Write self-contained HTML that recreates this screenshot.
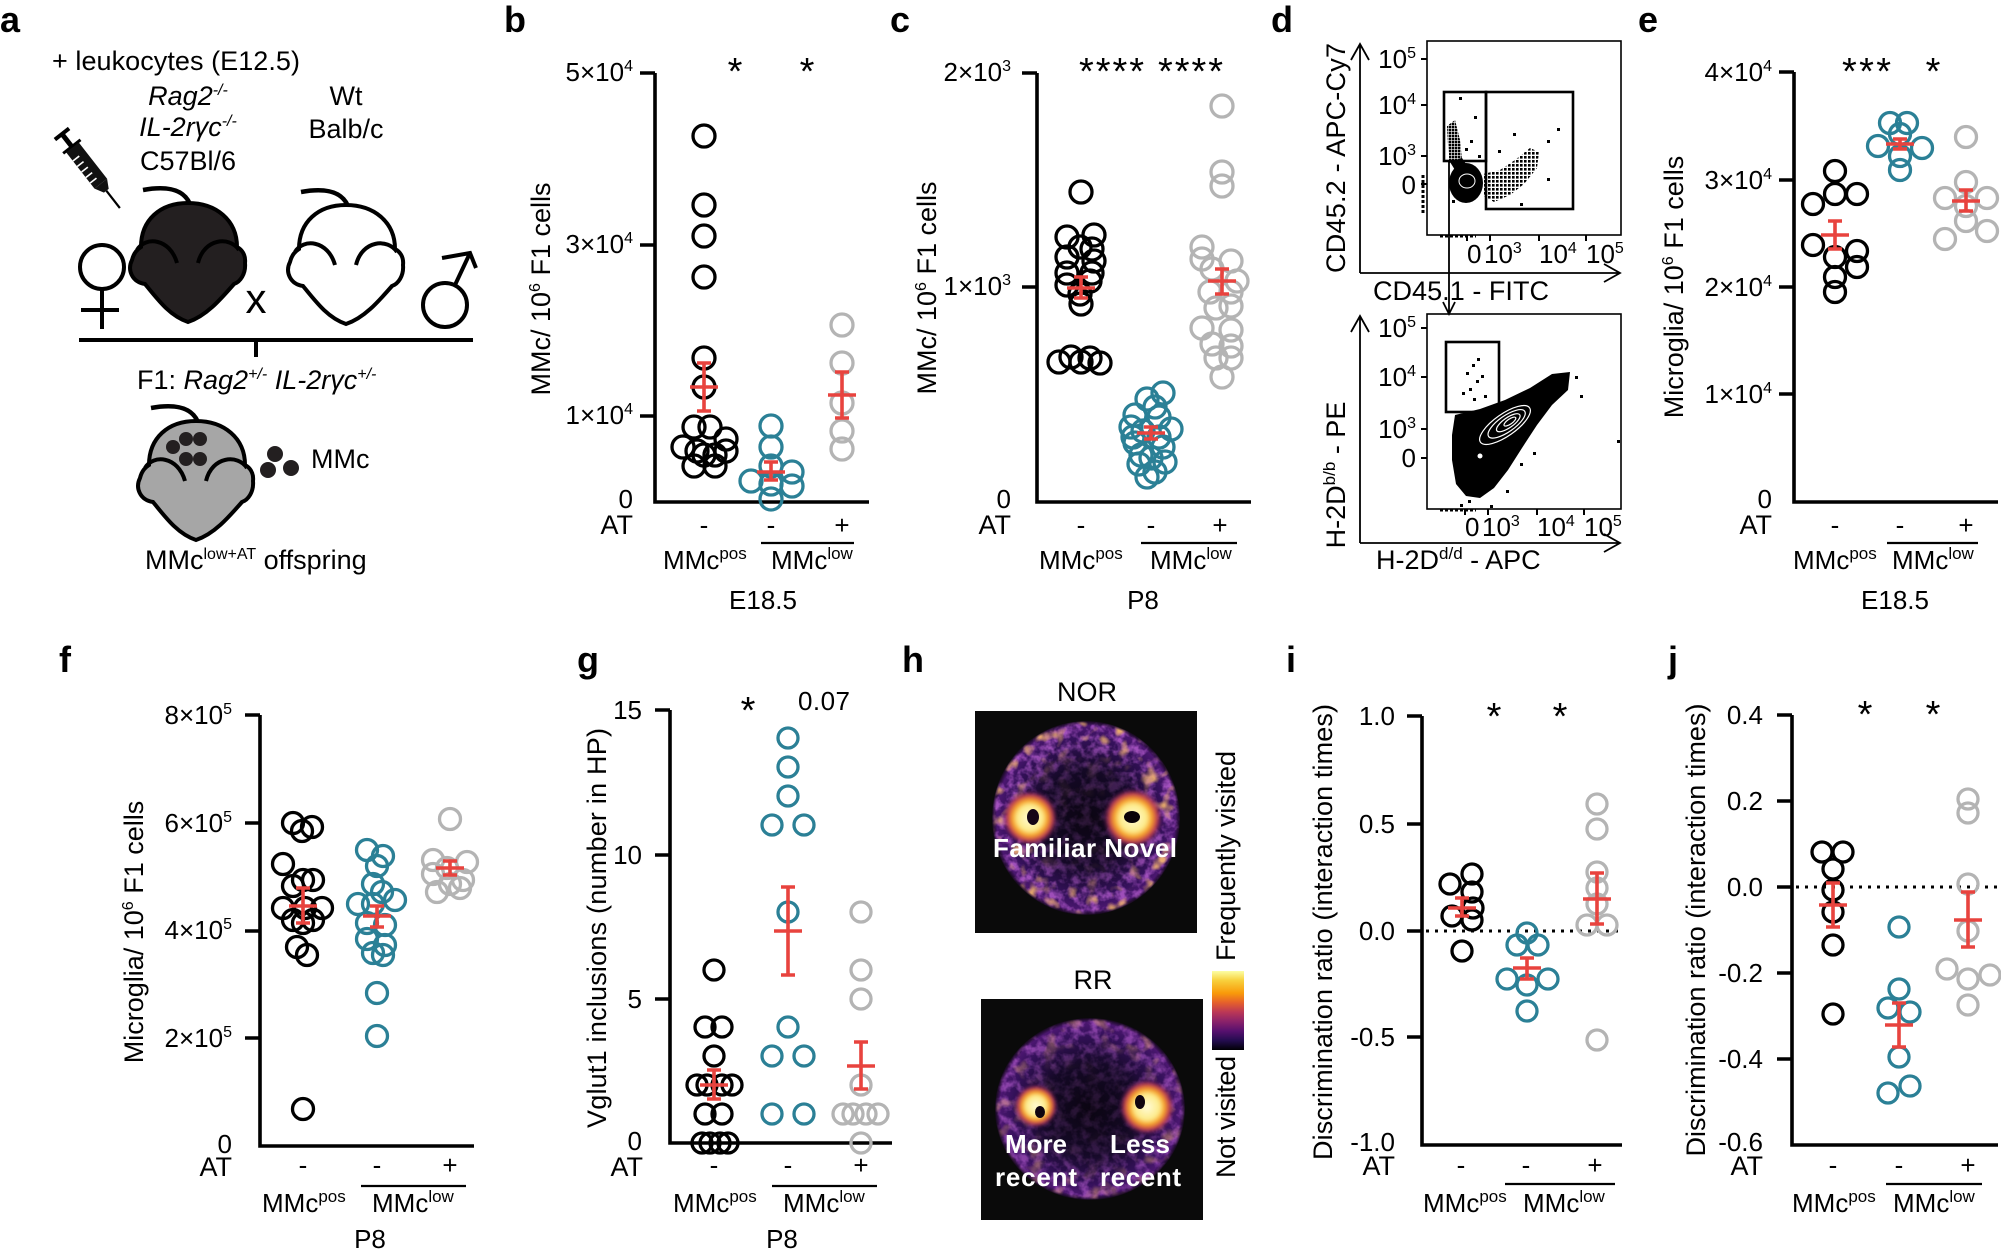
<!DOCTYPE html>
<html><head><meta charset="utf-8">
<style>
html,body{margin:0;padding:0;background:#fff;}
svg{display:block;}
text{font-family:"Liberation Sans",Arial,sans-serif;font-size:26px;fill:#000;}
.ax{fill:none;stroke:#000;stroke-width:3.6;}
.k circle{fill:none;stroke:#000;stroke-width:3.3;}
.t circle{fill:none;stroke:#2b8096;stroke-width:3.3;}
.g circle{fill:none;stroke:#b4b4b4;stroke-width:3.3;}
.eb{fill:none;stroke:#e8433e;stroke-width:3.6;}
.lbl{font-weight:bold;font-size:36px;}
.big{font-size:27px;}
.ast{font-size:38px;}
.thin{fill:none;stroke:#000;stroke-width:1.8;}
.wt{fill:#fff;font-weight:bold;font-size:26px;}
</style></head><body>
<svg width="2001" height="1251" viewBox="0 0 2001 1251" xmlns="http://www.w3.org/2000/svg" xmlns:xlink="http://www.w3.org/1999/xlink">
<defs>
  <g id="mouse">
    <path d="M188,322 C170,316 158,300 145,284 C132,282 127,270 132,260 C134,252 138,249 141,247 C141,220 160,203 188,203 C216,203 237,220 237,247 C241,249 246,254 245,263 C246,274 240,282 234,284 C220,300 206,316 188,322 Z" stroke="#000" stroke-width="4"/>
    <path d="M137,250 C145,236 170,238 177,263" fill="none" stroke="#000" stroke-width="4"/>
    <path d="M198,263 C204,238 230,236 239,250" fill="none" stroke="#000" stroke-width="4"/>
    <path d="M143,190 C165,186 183,188 190,204" fill="none" stroke="#000" stroke-width="4.5"/>
  </g>
  <radialGradient id="arena" cx="50%" cy="50%" r="50%">
    <stop offset="0" stop-color="#0b0512"/>
    <stop offset="0.5" stop-color="#140926"/>
    <stop offset="0.82" stop-color="#34115a"/>
    <stop offset="0.95" stop-color="#4b1770"/>
    <stop offset="1" stop-color="#120818"/>
  </radialGradient>
  <radialGradient id="ringg" cx="50%" cy="50%" r="50%">
    <stop offset="0" stop-color="#000"/>
    <stop offset="0.6" stop-color="#222"/>
    <stop offset="0.85" stop-color="#fff"/>
    <stop offset="0.97" stop-color="#fff"/>
    <stop offset="1" stop-color="#000"/>
  </radialGradient>
  <radialGradient id="ringsoft" cx="50%" cy="50%" r="50%">
    <stop offset="0" stop-color="#3a3a3a"/>
    <stop offset="0.5" stop-color="#555"/>
    <stop offset="0.82" stop-color="#eee"/>
    <stop offset="0.96" stop-color="#fff"/>
    <stop offset="1" stop-color="#000"/>
  </radialGradient>
  <mask id="ring1"><ellipse cx="1086" cy="818" rx="94" ry="97" fill="url(#ringg)"/></mask>
  <mask id="ring2"><ellipse cx="1090" cy="1109" rx="95" ry="91" fill="url(#ringg)"/></mask>
  <mask id="soft1"><ellipse cx="1086" cy="818" rx="94" ry="97" fill="url(#ringsoft)"/></mask>
  <mask id="soft2"><ellipse cx="1090" cy="1109" rx="95" ry="91" fill="url(#ringsoft)"/></mask>
  <radialGradient id="hot" cx="50%" cy="50%" r="50%">
    <stop offset="0" stop-color="#fffbd8"/>
    <stop offset="0.45" stop-color="#fdeb8a"/>
    <stop offset="0.62" stop-color="#f7a42a"/>
    <stop offset="0.8" stop-color="#c4404c"/>
    <stop offset="1" stop-color="#5a1470" stop-opacity="0"/>
  </radialGradient>
  <linearGradient id="cbar" x1="0" y1="0" x2="0" y2="1">
    <stop offset="0" stop-color="#fcffa4"/>
    <stop offset="0.12" stop-color="#f8d03c"/>
    <stop offset="0.28" stop-color="#f99a0a"/>
    <stop offset="0.4" stop-color="#e5602b"/>
    <stop offset="0.52" stop-color="#bb3756"/>
    <stop offset="0.64" stop-color="#8a226a"/>
    <stop offset="0.76" stop-color="#57106e"/>
    <stop offset="0.88" stop-color="#240c4f"/>
    <stop offset="1" stop-color="#000004"/>
  </linearGradient>
  <filter id="noise" x="0" y="0" width="1" height="1">
    <feTurbulence type="fractalNoise" baseFrequency="0.11" numOctaves="3" seed="7"/>
    <feColorMatrix type="matrix" values="0 0 0 0 0.5  0 0 0 0 0.12  0 0 0 0 0.66  3 0 0 0 -1.2"/>
  </filter>
  <filter id="onoise" x="0" y="0" width="1" height="1">
    <feTurbulence type="fractalNoise" baseFrequency="0.07" numOctaves="2" seed="11"/>
    <feColorMatrix type="matrix" values="0 0 0 0 0.96  0 0 0 0 0.5  0 0 0 0 0.16  3.6 0 0 0 -1.9"/>
  </filter>
  <filter id="blur"><feGaussianBlur stdDeviation="1.6"/></filter>
  <pattern id="dots" width="4" height="4" patternUnits="userSpaceOnUse"><rect width="2.6" height="2.6" fill="#000"/></pattern>
  <pattern id="dots2" width="3" height="3" patternUnits="userSpaceOnUse"><rect width="2.4" height="2.4" fill="#000"/></pattern>
</defs>

<!-- ================= Panel a ================= -->
<text class="lbl" x="0" y="32">a</text>
<text class="big" x="52" y="70" textLength="248">+ leukocytes (E12.5)</text>
<text class="big" x="188" y="105" text-anchor="middle" font-style="italic">Rag2<tspan dy="-10" font-size="16">-/-</tspan></text>
<text class="big" x="188" y="136" text-anchor="middle" font-style="italic">IL-2rγc<tspan dy="-10" font-size="16">-/-</tspan></text>
<text class="big" x="188" y="170" text-anchor="middle">C57Bl/6</text>
<text class="big" x="346" y="105" text-anchor="middle">Wt</text>
<text class="big" x="346" y="138" text-anchor="middle">Balb/c</text>
<g transform="translate(62,134) rotate(52)">
  <line x1="0" y1="-9" x2="0" y2="9" stroke="#000" stroke-width="4"/>
  <line x1="0" y1="0" x2="16" y2="0" stroke="#000" stroke-width="5"/>
  <line x1="16" y1="-11" x2="16" y2="11" stroke="#000" stroke-width="3"/>
  <rect x="17" y="-8" width="46" height="16" fill="#111"/>
  <g stroke="#fff" stroke-width="1.6"><line x1="28" y1="0" x2="28" y2="8"/><line x1="35" y1="0" x2="35" y2="8"/><line x1="42" y1="0" x2="42" y2="8"/><line x1="49" y1="0" x2="49" y2="8"/><line x1="56" y1="0" x2="56" y2="8"/></g>
  <polygon points="63,-8 72,-3 72,3 63,8" fill="#111"/>
  <line x1="72" y1="0" x2="94" y2="0" stroke="#000" stroke-width="2.2"/>
</g>
<use xlink:href="#mouse" fill="#231f20"/>
<use xlink:href="#mouse" fill="#fff" transform="translate(158,2)"/>
<use xlink:href="#mouse" fill="#a6a6a6" transform="translate(8,218)"/>
<circle cx="102" cy="267" r="22" fill="none" stroke="#000" stroke-width="4"/>
<line x1="102" y1="289" x2="102" y2="329" stroke="#000" stroke-width="4"/>
<line x1="81" y1="310" x2="119" y2="310" stroke="#000" stroke-width="4"/>
<circle cx="445" cy="305" r="22" fill="none" stroke="#000" stroke-width="4"/>
<path d="M455,285 L470,253 M442,258 L470,253 L476,268" fill="none" stroke="#000" stroke-width="4"/>
<text x="256" y="313" style="font-size:42px" text-anchor="middle">x</text>
<path d="M79,340 H473 M256,340 V357" fill="none" stroke="#000" stroke-width="4"/>
<text class="big" x="137" y="389">F1: <tspan font-style="italic">Rag2</tspan><tspan dy="-10" font-size="16" font-style="italic">+/-</tspan><tspan dy="10" font-style="italic"> IL-2rγc</tspan><tspan dy="-10" font-size="16" font-style="italic">+/-</tspan></text>
<g fill="#231f20">
  <circle cx="173" cy="447" r="7"/><circle cx="186" cy="439" r="7"/><circle cx="200" cy="439" r="7"/>
  <circle cx="186" cy="459" r="7"/><circle cx="200" cy="459" r="7"/>
  <circle cx="275" cy="454" r="8"/><circle cx="268" cy="470" r="8"/><circle cx="291" cy="468" r="8"/>
</g>
<text class="big" x="311" y="468">MMc</text>
<text class="big" x="145" y="569">MMc<tspan dy="-10" font-size="16">low+AT</tspan><tspan dy="10"> offspring</tspan></text>

<!-- ================= Panel b ================= -->
<text class="lbl" x="504" y="32">b</text>
<text class="big" transform="translate(550,289) rotate(-90)" text-anchor="middle">MMc/ 10<tspan dy="-10" font-size="16">6</tspan><tspan dy="10"> F1 cells</tspan></text>
<path class="ax" d="M655,73 V502 H869 M640,73 H655 M640,245 H655 M640,416 H655"/>
<text x="633" y="81" text-anchor="end">5×10<tspan dy="-10" font-size="16">4</tspan></text>
<text x="633" y="253" text-anchor="end">3×10<tspan dy="-10" font-size="16">4</tspan></text>
<text x="633" y="424" text-anchor="end">1×10<tspan dy="-10" font-size="16">4</tspan></text>
<text x="633" y="508" text-anchor="end">0</text>
<text class="big" x="633" y="534" text-anchor="end">AT</text>
<text x="704" y="534" text-anchor="middle">-</text><text x="771" y="534" text-anchor="middle">-</text><text x="842" y="534" text-anchor="middle">+</text>
<path d="M761,543 H854" stroke="#000" stroke-width="2.2"/>
<text x="663" y="569">MMc<tspan dy="-10" font-size="17">pos</tspan></text>
<text x="771" y="569">MMc<tspan dy="-10" font-size="17">low</tspan></text>
<text x="763" y="609" text-anchor="middle">E18.5</text>
<text class="ast" x="735" y="84" text-anchor="middle">*</text><text class="ast" x="807" y="84" text-anchor="middle">*</text>
<g class="k"><circle cx="704" cy="136" r="11"/><circle cx="704" cy="205" r="11"/><circle cx="704" cy="236" r="11"/><circle cx="704" cy="277" r="11"/><circle cx="704" cy="358" r="11"/><circle cx="704" cy="387" r="11"/><circle cx="694" cy="427" r="11"/><circle cx="710" cy="427" r="11"/><circle cx="683" cy="447" r="11"/><circle cx="697" cy="451" r="11"/><circle cx="726" cy="439" r="11"/><circle cx="726" cy="451" r="11"/><circle cx="715" cy="455" r="11"/><circle cx="694" cy="466" r="11"/><circle cx="715" cy="466" r="11"/><circle cx="704" cy="455" r="11"/></g>
<g class="t"><circle cx="771" cy="426" r="11"/><circle cx="771" cy="447" r="11"/><circle cx="771" cy="466" r="11"/><circle cx="751" cy="481" r="11"/><circle cx="792" cy="472" r="11"/><circle cx="792" cy="486" r="11"/><circle cx="771" cy="484" r="11"/><circle cx="771" cy="499" r="11"/></g>
<g class="g"><circle cx="842" cy="325" r="11"/><circle cx="842" cy="363" r="11"/><circle cx="842" cy="403" r="11"/><circle cx="842" cy="431" r="11"/><circle cx="842" cy="449" r="11"/></g>
<path class="eb" d="M704,363V411M697,363H711M697,411H711M690,387H718 M771,462V480M764,462H778M764,480H778M757,472H785 M842,372V418M835,372H849M835,418H849M828,395H856"/>

<!-- ================= Panel c ================= -->
<text class="lbl" x="890" y="32">c</text>
<text class="big" transform="translate(936,288) rotate(-90)" text-anchor="middle">MMc/ 10<tspan dy="-10" font-size="16">6</tspan><tspan dy="10"> F1 cells</tspan></text>
<path class="ax" d="M1037,73 V502 H1251 M1022,73 H1037 M1022,287 H1037"/>
<text x="1011" y="81" text-anchor="end">2×10<tspan dy="-10" font-size="16">3</tspan></text>
<text x="1011" y="295" text-anchor="end">1×10<tspan dy="-10" font-size="16">3</tspan></text>
<text x="1011" y="508" text-anchor="end">0</text>
<text class="big" x="1011" y="534" text-anchor="end">AT</text>
<text x="1081" y="534" text-anchor="middle">-</text><text x="1151" y="534" text-anchor="middle">-</text><text x="1220" y="534" text-anchor="middle">+</text>
<path d="M1141,543 H1237" stroke="#000" stroke-width="2.2"/>
<text x="1039" y="569">MMc<tspan dy="-10" font-size="17">pos</tspan></text>
<text x="1150" y="569">MMc<tspan dy="-10" font-size="17">low</tspan></text>
<text x="1143" y="609" text-anchor="middle">P8</text>
<text class="ast" x="1079" y="84" textLength="65">****</text><text class="ast" x="1158" y="84" textLength="65">****</text>
<g class="k"><circle cx="1081" cy="192" r="11"/><circle cx="1067" cy="237" r="11"/><circle cx="1094" cy="235" r="11"/><circle cx="1080" cy="247" r="11"/><circle cx="1092" cy="249" r="11"/><circle cx="1067" cy="257" r="11"/><circle cx="1094" cy="261" r="11"/><circle cx="1067" cy="273" r="11"/><circle cx="1092" cy="273" r="11"/><circle cx="1067" cy="285" r="11"/><circle cx="1090" cy="281" r="11"/><circle cx="1080" cy="294" r="11"/><circle cx="1081" cy="304" r="11"/><circle cx="1059" cy="362" r="11"/><circle cx="1071" cy="357" r="11"/><circle cx="1081" cy="362" r="11"/><circle cx="1090" cy="358" r="11"/><circle cx="1100" cy="363" r="11"/></g>
<g class="t"><circle cx="1163" cy="393" r="11"/><circle cx="1147" cy="399" r="11"/><circle cx="1155" cy="407" r="11"/><circle cx="1135" cy="415" r="11"/><circle cx="1159" cy="417" r="11"/><circle cx="1131" cy="427" r="11"/><circle cx="1171" cy="429" r="11"/><circle cx="1143" cy="431" r="11"/><circle cx="1159" cy="437" r="11"/><circle cx="1133" cy="437" r="11"/><circle cx="1135" cy="443" r="11"/><circle cx="1163" cy="447" r="11"/><circle cx="1141" cy="455" r="11"/><circle cx="1151" cy="458" r="11"/><circle cx="1165" cy="462" r="11"/><circle cx="1139" cy="464" r="11"/><circle cx="1155" cy="472" r="11"/><circle cx="1147" cy="477" r="11"/></g>
<g class="g"><circle cx="1222" cy="106" r="11"/><circle cx="1222" cy="172" r="11"/><circle cx="1222" cy="186" r="11"/><circle cx="1202" cy="247" r="11"/><circle cx="1202" cy="259" r="11"/><circle cx="1231" cy="261" r="11"/><circle cx="1212" cy="269" r="11"/><circle cx="1237" cy="281" r="11"/><circle cx="1210" cy="292" r="11"/><circle cx="1231" cy="292" r="11"/><circle cx="1216" cy="308" r="11"/><circle cx="1231" cy="306" r="11"/><circle cx="1202" cy="328" r="11"/><circle cx="1231" cy="330" r="11"/><circle cx="1212" cy="344" r="11"/><circle cx="1231" cy="346" r="11"/><circle cx="1216" cy="358" r="11"/><circle cx="1231" cy="358" r="11"/><circle cx="1222" cy="377" r="11"/></g>
<path class="eb" d="M1081,277V298M1074,277H1088M1074,298H1088M1067,288H1095 M1151,427V439M1144,427H1158M1144,439H1158M1137,433H1165 M1222,269V294M1215,269H1229M1215,294H1229M1208,281H1236"/>

<!-- ================= Panel d ================= -->
<text class="lbl" x="1271" y="32">d</text>
<rect x="1427" y="41" width="194" height="194" fill="none" stroke="#000" stroke-width="1.6"/>
<path class="thin" d="M1360,273 V45 M1351,60 L1360,44 L1369,60 M1360,273 H1620 M1604,264 L1620,273 L1604,282"/>
<path d="M1421,59H1427M1421,105H1427M1421,156H1427M1421,184H1427M1467,235V241M1490,235V241M1539,235V241M1586,235V241" stroke="#000" stroke-width="2"/>
<text x="1416" y="68" text-anchor="end">10<tspan dy="-10" font-size="16">5</tspan></text>
<text x="1416" y="114" text-anchor="end">10<tspan dy="-10" font-size="16">4</tspan></text>
<text x="1416" y="165" text-anchor="end">10<tspan dy="-10" font-size="16">3</tspan></text>
<text x="1416" y="194" text-anchor="end">0</text>
<text x="1467" y="263">0</text><text x="1484" y="263">10<tspan dy="-10" font-size="16">3</tspan></text>
<text x="1539" y="263">10<tspan dy="-10" font-size="16">4</tspan></text><text x="1586" y="263">10<tspan dy="-10" font-size="16">5</tspan></text>
<text class="big" transform="translate(1345,158) rotate(-90)" text-anchor="middle" textLength="230">CD45.2 - APC-Cy7</text>
<text class="big" x="1373" y="300" textLength="176">CD45.1 - FITC</text>
<rect x="1444" y="92" width="42" height="69" fill="none" stroke="#000" stroke-width="2.6"/>
<rect x="1486" y="92" width="87" height="117" fill="none" stroke="#000" stroke-width="2.6"/>
<path d="M1447,126 L1455,120 L1460,140 L1462,160 L1449,163 Z" fill="url(#dots2)"/>
<ellipse cx="1466" cy="183" rx="17" ry="20" fill="#000"/>
<path d="M1450,162 L1462,158 L1470,170 L1460,178 Z" fill="#000"/>
<path d="M1483,174 L1500,170 L1515,160 L1530,148 L1539,152 L1537,168 L1524,184 L1510,195 L1494,202 L1484,196 Z" fill="url(#dots)"/>
<ellipse cx="1467" cy="181" rx="8" ry="7" fill="none" stroke="#fff" stroke-width="1"/>
<g fill="#000"><rect x="1459" y="97" width="3" height="3"/><rect x="1474" y="116" width="3" height="3"/><rect x="1513" y="133" width="3" height="3"/><rect x="1547" y="140" width="3" height="3"/><rect x="1557" y="128" width="3" height="3"/><rect x="1547" y="178" width="3" height="3"/><rect x="1520" y="203" width="3" height="3"/><rect x="1498" y="150" width="3" height="3"/><rect x="1470" y="140" width="3" height="3"/><rect x="1478" y="155" width="3" height="3"/><rect x="1465" y="148" width="3" height="3"/><rect x="1452" y="200" width="3" height="3"/></g>
<path d="M1440,236 H1476" stroke="#000" stroke-width="3" stroke-dasharray="3 2"/>
<path d="M1423,175 V215" stroke="#000" stroke-width="3" stroke-dasharray="3 2"/>
<path class="thin" d="M1449,162 V314 M1443,302 L1449,314 L1455,302"/>
<rect x="1427" y="314" width="194" height="195" fill="none" stroke="#000" stroke-width="1.6"/>
<path class="thin" d="M1360,543 V316 M1351,332 L1360,316 L1369,332 M1360,543 H1620 M1604,534 L1620,543 L1604,552"/>
<path d="M1421,328H1427M1421,377H1427M1421,429H1427M1421,458H1427M1465,509V515M1488,509V515M1537,509V515M1584,509V515" stroke="#000" stroke-width="2"/>
<text x="1416" y="337" text-anchor="end">10<tspan dy="-10" font-size="16">5</tspan></text>
<text x="1416" y="386" text-anchor="end">10<tspan dy="-10" font-size="16">4</tspan></text>
<text x="1416" y="438" text-anchor="end">10<tspan dy="-10" font-size="16">3</tspan></text>
<text x="1416" y="467" text-anchor="end">0</text>
<text x="1465" y="536">0</text><text x="1482" y="536">10<tspan dy="-10" font-size="16">3</tspan></text>
<text x="1537" y="536">10<tspan dy="-10" font-size="16">4</tspan></text><text x="1584" y="536">10<tspan dy="-10" font-size="16">5</tspan></text>
<text class="big" transform="translate(1345,475) rotate(-90)" text-anchor="middle">H-2D<tspan dy="-10" font-size="17">b/b</tspan><tspan dy="10"> - PE</tspan></text>
<text class="big" x="1376" y="569">H-2D<tspan dy="-10" font-size="17">d/d</tspan><tspan dy="10"> - APC</tspan></text>
<rect x="1446" y="342" width="53" height="70" fill="none" stroke="#000" stroke-width="2.6"/>
<path d="M1455,415 L1480,409 L1505,400 L1530,388 L1552,374 L1570,372 L1568,390 L1552,405 L1537,425 L1522,448 L1508,470 L1494,488 L1480,498 L1466,496 L1456,484 L1452,460 L1452,435 Z" fill="#000"/>
<g fill="none" stroke="#fff" stroke-width="1.2" transform="rotate(-35 1505 425)">
  <ellipse cx="1505" cy="425" rx="30" ry="11"/><ellipse cx="1507" cy="425" rx="22" ry="8"/><ellipse cx="1509" cy="425" rx="14" ry="5"/><ellipse cx="1511" cy="425" rx="7" ry="2.5"/>
</g>
<circle cx="1480" cy="456" r="2.5" fill="#fff"/>
<g fill="#000"><rect x="1466" y="372" width="3" height="3"/><rect x="1472" y="364" width="3" height="3"/><rect x="1476" y="380" width="3" height="3"/><rect x="1469" y="388" width="3" height="3"/><rect x="1481" y="375" width="3" height="3"/><rect x="1462" y="392" width="3" height="3"/><rect x="1484" y="395" width="3" height="3"/><rect x="1477" y="358" width="3" height="3"/><rect x="1473" y="398" width="3" height="3"/><rect x="1548" y="384" width="3" height="3"/><rect x="1575" y="376" width="3" height="3"/><rect x="1580" y="395" width="3" height="3"/><rect x="1520" y="463" width="3" height="3"/><rect x="1533" y="452" width="3" height="3"/><rect x="1468" y="500" width="3" height="3"/><rect x="1460" y="504" width="3" height="3"/><rect x="1490" y="505" width="3" height="3"/><rect x="1506" y="490" width="3" height="3"/><rect x="1617" y="440" width="3" height="3"/><rect x="1536" y="418" width="3" height="3"/></g>
<path d="M1440,510 H1476" stroke="#000" stroke-width="3" stroke-dasharray="3 2"/>

<!-- ================= Panel e ================= -->
<text class="lbl" x="1638" y="32">e</text>
<text class="big" transform="translate(1683,287) rotate(-90)" text-anchor="middle">Microglia/ 10<tspan dy="-10" font-size="16">6</tspan><tspan dy="10"> F1 cells</tspan></text>
<path class="ax" d="M1794,72 V502 H1998 M1779,72 H1794 M1779,180 H1794 M1779,287 H1794 M1779,394 H1794"/>
<text x="1772" y="81" text-anchor="end">4×10<tspan dy="-10" font-size="16">4</tspan></text>
<text x="1772" y="189" text-anchor="end">3×10<tspan dy="-10" font-size="16">4</tspan></text>
<text x="1772" y="296" text-anchor="end">2×10<tspan dy="-10" font-size="16">4</tspan></text>
<text x="1772" y="403" text-anchor="end">1×10<tspan dy="-10" font-size="16">4</tspan></text>
<text x="1772" y="508" text-anchor="end">0</text>
<text class="big" x="1772" y="534" text-anchor="end">AT</text>
<text x="1835" y="534" text-anchor="middle">-</text><text x="1900" y="534" text-anchor="middle">-</text><text x="1966" y="534" text-anchor="middle">+</text>
<path d="M1887,543 H1978" stroke="#000" stroke-width="2.2"/>
<text x="1793" y="569">MMc<tspan dy="-10" font-size="17">pos</tspan></text>
<text x="1892" y="569">MMc<tspan dy="-10" font-size="17">low</tspan></text>
<text x="1895" y="609" text-anchor="middle">E18.5</text>
<text class="ast" x="1842" y="84" textLength="49">***</text><text class="ast" x="1933" y="84" text-anchor="middle">*</text>
<g class="k"><circle cx="1835" cy="171" r="10.5"/><circle cx="1813" cy="204" r="10.5"/><circle cx="1835" cy="194" r="10.5"/><circle cx="1857" cy="194" r="10.5"/><circle cx="1813" cy="245" r="10.5"/><circle cx="1835" cy="257" r="10.5"/><circle cx="1857" cy="251" r="10.5"/><circle cx="1857" cy="267" r="10.5"/><circle cx="1835" cy="277" r="10.5"/><circle cx="1835" cy="292" r="10.5"/></g>
<g class="t"><circle cx="1890" cy="123" r="10.5"/><circle cx="1907" cy="123" r="10.5"/><circle cx="1878" cy="146" r="10.5"/><circle cx="1900" cy="134" r="10.5"/><circle cx="1922" cy="148" r="10.5"/><circle cx="1900" cy="156" r="10.5"/><circle cx="1900" cy="170" r="10.5"/></g>
<g class="g"><circle cx="1966" cy="137" r="10.5"/><circle cx="1966" cy="182" r="10.5"/><circle cx="1945" cy="198" r="10.5"/><circle cx="1987" cy="198" r="10.5"/><circle cx="1966" cy="206" r="10.5"/><circle cx="1966" cy="221" r="10.5"/><circle cx="1945" cy="239" r="10.5"/><circle cx="1987" cy="231" r="10.5"/></g>
<path class="eb" d="M1835,221V249M1828,221H1842M1828,249H1842M1821,235H1849 M1900,139V149M1893,139H1907M1893,149H1907M1886,144H1914 M1966,190V211M1959,190H1973M1959,211H1973M1952,201H1980"/>

<!-- ================= Panel f ================= -->
<text class="lbl" x="59" y="672">f</text>
<text class="big" transform="translate(143,932) rotate(-90)" text-anchor="middle">Microglia/ 10<tspan dy="-10" font-size="16">6</tspan><tspan dy="10"> F1 cells</tspan></text>
<path class="ax" d="M260,715 V1146 H474 M245,715 H260 M245,823 H260 M245,931 H260 M245,1038 H260"/>
<text x="232" y="724" text-anchor="end">8×10<tspan dy="-10" font-size="16">5</tspan></text>
<text x="232" y="832" text-anchor="end">6×10<tspan dy="-10" font-size="16">5</tspan></text>
<text x="232" y="939" text-anchor="end">4×10<tspan dy="-10" font-size="16">5</tspan></text>
<text x="232" y="1047" text-anchor="end">2×10<tspan dy="-10" font-size="16">5</tspan></text>
<text x="232" y="1153" text-anchor="end">0</text>
<text class="big" x="232" y="1176" text-anchor="end">AT</text>
<text x="303" y="1174" text-anchor="middle">-</text><text x="377" y="1174" text-anchor="middle">-</text><text x="450" y="1174" text-anchor="middle">+</text>
<path d="M361,1186 H466" stroke="#000" stroke-width="2.2"/>
<text x="262" y="1212">MMc<tspan dy="-10" font-size="17">pos</tspan></text>
<text x="372" y="1212">MMc<tspan dy="-10" font-size="17">low</tspan></text>
<text x="370" y="1248" text-anchor="middle">P8</text>
<g class="k"><circle cx="293" cy="823" r="10.5"/><circle cx="312" cy="827" r="10.5"/><circle cx="302" cy="831" r="10.5"/><circle cx="283" cy="864" r="10.5"/><circle cx="303" cy="880" r="10.5"/><circle cx="313" cy="880" r="10.5"/><circle cx="293" cy="886" r="10.5"/><circle cx="283" cy="908" r="10.5"/><circle cx="322" cy="908" r="10.5"/><circle cx="305" cy="908" r="10.5"/><circle cx="293" cy="920" r="10.5"/><circle cx="313" cy="920" r="10.5"/><circle cx="303" cy="923" r="10.5"/><circle cx="297" cy="947" r="10.5"/><circle cx="307" cy="955" r="10.5"/><circle cx="303" cy="1109" r="10.5"/></g>
<g class="t"><circle cx="367" cy="850" r="10.5"/><circle cx="383" cy="856" r="10.5"/><circle cx="377" cy="866" r="10.5"/><circle cx="373" cy="884" r="10.5"/><circle cx="382" cy="892" r="10.5"/><circle cx="358" cy="904" r="10.5"/><circle cx="395" cy="900" r="10.5"/><circle cx="373" cy="904" r="10.5"/><circle cx="367" cy="923" r="10.5"/><circle cx="385" cy="925" r="10.5"/><circle cx="367" cy="939" r="10.5"/><circle cx="385" cy="945" r="10.5"/><circle cx="373" cy="953" r="10.5"/><circle cx="383" cy="955" r="10.5"/><circle cx="377" cy="993" r="10.5"/><circle cx="377" cy="1036" r="10.5"/></g>
<g class="g"><circle cx="450" cy="819" r="10.5"/><circle cx="433" cy="860" r="10.5"/><circle cx="467" cy="862" r="10.5"/><circle cx="447" cy="868" r="10.5"/><circle cx="433" cy="874" r="10.5"/><circle cx="463" cy="880" r="10.5"/><circle cx="450" cy="884" r="10.5"/><circle cx="437" cy="892" r="10.5"/><circle cx="460" cy="888" r="10.5"/></g>
<path class="eb" d="M303,888V923M296,888H310M296,923H310M289,906H317 M377,906V927M370,906H384M370,927H384M363,916H391 M450,861V875M443,861H457M443,875H457M436,868H464"/>

<!-- ================= Panel g ================= -->
<text class="lbl" x="577" y="672">g</text>
<text class="big" transform="translate(606,928) rotate(-90)" text-anchor="middle" textLength="400">Vglut1 inclusions (number in HP)</text>
<path class="ax" d="M670,710 V1143 H892 M655,710 H670 M655,855 H670 M655,999 H670"/>
<text x="642" y="719" text-anchor="end">15</text>
<text x="642" y="864" text-anchor="end">10</text>
<text x="642" y="1008" text-anchor="end">5</text>
<text x="642" y="1150" text-anchor="end">0</text>
<text class="big" x="643" y="1176" text-anchor="end">AT</text>
<text x="714" y="1174" text-anchor="middle">-</text><text x="788" y="1174" text-anchor="middle">-</text><text x="861" y="1174" text-anchor="middle">+</text>
<path d="M772,1186 H877" stroke="#000" stroke-width="2.2"/>
<text x="673" y="1212">MMc<tspan dy="-10" font-size="17">pos</tspan></text>
<text x="783" y="1212">MMc<tspan dy="-10" font-size="17">low</tspan></text>
<text x="782" y="1248" text-anchor="middle">P8</text>
<text class="ast" x="748" y="723" text-anchor="middle">*</text><text x="798" y="710" textLength="52">0.07</text>
<g class="k"><circle cx="714" cy="970" r="10"/><circle cx="705" cy="1027" r="10"/><circle cx="722" cy="1027" r="10"/><circle cx="714" cy="1056" r="10"/><circle cx="697" cy="1085" r="10"/><circle cx="707" cy="1085" r="10"/><circle cx="722" cy="1085" r="10"/><circle cx="732" cy="1085" r="10"/><circle cx="705" cy="1114" r="10"/><circle cx="722" cy="1114" r="10"/><circle cx="702" cy="1143" r="10"/><circle cx="710" cy="1143" r="10"/><circle cx="720" cy="1143" r="10"/><circle cx="728" cy="1143" r="10"/></g>
<g class="t"><circle cx="788" cy="738" r="10"/><circle cx="788" cy="767" r="10"/><circle cx="788" cy="796" r="10"/><circle cx="772" cy="825" r="10"/><circle cx="804" cy="825" r="10"/><circle cx="788" cy="912" r="10"/><circle cx="788" cy="1027" r="10"/><circle cx="772" cy="1056" r="10"/><circle cx="804" cy="1056" r="10"/><circle cx="772" cy="1114" r="10"/><circle cx="804" cy="1114" r="10"/></g>
<g class="g"><circle cx="861" cy="912" r="10"/><circle cx="861" cy="970" r="10"/><circle cx="861" cy="999" r="10"/><circle cx="861" cy="1085" r="10"/><circle cx="843" cy="1114" r="10"/><circle cx="853" cy="1114" r="10"/><circle cx="866" cy="1114" r="10"/><circle cx="878" cy="1114" r="10"/><circle cx="861" cy="1143" r="10"/></g>
<path class="eb" d="M714,1070V1099M707,1070H721M707,1099H721M700,1085H728 M788,887V975M781,887H795M781,975H795M774,931H802 M861,1042V1089M854,1042H868M854,1089H868M847,1066H875"/>

<!-- ================= Panel h ================= -->
<text class="lbl" x="902" y="672">h</text>
<text class="big" x="1087" y="701" text-anchor="middle">NOR</text>
<rect x="975" y="711" width="222" height="222" fill="#0a0a0a"/>
<ellipse cx="1086" cy="818" rx="94" ry="97" fill="url(#arena)"/>
<g mask="url(#soft1)"><rect x="990" y="720" width="192" height="196" filter="url(#noise)" opacity="0.8"/></g>
<g mask="url(#ring1)"><rect x="990" y="720" width="192" height="196" filter="url(#onoise)" opacity="0.9"/></g>
<g filter="url(#blur)">
  <circle cx="1030" cy="818" r="28" fill="url(#hot)"/><circle cx="1133" cy="818" r="30" fill="url(#hot)"/>
</g>
<ellipse cx="1033" cy="817" rx="6" ry="8" fill="#150616"/><ellipse cx="1132" cy="817" rx="8" ry="6" fill="#0a0208"/>
<text class="wt" x="993" y="857" textLength="184">Familiar Novel</text>
<text class="big" x="1093" y="989" text-anchor="middle">RR</text>
<rect x="981" y="999" width="222" height="221" fill="#0a0a0a"/>
<ellipse cx="1090" cy="1109" rx="95" ry="91" fill="url(#arena)"/>
<g mask="url(#soft2)"><rect x="995" y="1018" width="190" height="182" filter="url(#noise)" opacity="0.6"/></g>
<g mask="url(#ring2)"><rect x="995" y="1018" width="190" height="182" filter="url(#onoise)" opacity="0.4"/></g>
<g filter="url(#blur)">
  <circle cx="1036" cy="1106" r="22" fill="url(#hot)"/><circle cx="1147" cy="1107" r="28" fill="url(#hot)"/>
</g>
<ellipse cx="1040" cy="1112" rx="5" ry="6" fill="#100510"/><ellipse cx="1140" cy="1102" rx="5" ry="7" fill="#100510"/>
<text class="wt" x="1005" y="1153" textLength="62">More</text>
<text class="wt" x="995" y="1186" textLength="82">recent</text>
<text class="wt" x="1110" y="1153" textLength="60">Less</text>
<text class="wt" x="1100" y="1186" textLength="81">recent</text>
<rect x="1212" y="971" width="32" height="79" fill="url(#cbar)"/>
<text class="big" transform="translate(1235,856) rotate(-90)" text-anchor="middle" textLength="210">Frequently visited</text>
<text class="big" transform="translate(1235,1117) rotate(-90)" text-anchor="middle" textLength="122">Not visited</text>

<!-- ================= Panel i ================= -->
<text class="lbl" x="1286" y="672">i</text>
<text class="big" transform="translate(1332,932) rotate(-90)" text-anchor="middle" textLength="456">Discrimination ratio (interaction times)</text>
<path class="ax" d="M1422,716 V1145 H1622 M1407,716 H1422 M1407,824 H1422 M1407,931 H1422 M1407,1037 H1422"/>
<path d="M1426,931 H1622" stroke="#000" stroke-width="3" stroke-dasharray="3 6"/>
<text x="1395" y="725" text-anchor="end">1.0</text>
<text x="1395" y="833" text-anchor="end">0.5</text>
<text x="1395" y="940" text-anchor="end">0.0</text>
<text x="1395" y="1046" text-anchor="end">-0.5</text>
<text x="1395" y="1151" text-anchor="end">-1.0</text>
<text class="big" x="1395" y="1175" text-anchor="end">AT</text>
<text x="1461" y="1174" text-anchor="middle">-</text><text x="1526" y="1174" text-anchor="middle">-</text><text x="1595" y="1174" text-anchor="middle">+</text>
<path d="M1505,1184 H1615" stroke="#000" stroke-width="2.2"/>
<text x="1423" y="1212">MMc<tspan dy="-10" font-size="17">pos</tspan></text>
<text x="1523" y="1212">MMc<tspan dy="-10" font-size="17">low</tspan></text>
<text class="ast" x="1494" y="729" text-anchor="middle">*</text><text class="ast" x="1560" y="729" text-anchor="middle">*</text>
<g class="k"><circle cx="1450" cy="884" r="10"/><circle cx="1472" cy="874" r="10"/><circle cx="1472" cy="892" r="10"/><circle cx="1473" cy="908" r="10"/><circle cx="1452" cy="916" r="10"/><circle cx="1472" cy="920" r="10"/><circle cx="1462" cy="951" r="10"/></g>
<g class="t"><circle cx="1527" cy="933" r="10"/><circle cx="1517" cy="945" r="10"/><circle cx="1538" cy="945" r="10"/><circle cx="1507" cy="979" r="10"/><circle cx="1527" cy="985" r="10"/><circle cx="1548" cy="979" r="10"/><circle cx="1527" cy="1011" r="10"/></g>
<g class="g"><circle cx="1597" cy="804" r="10"/><circle cx="1597" cy="829" r="10"/><circle cx="1597" cy="872" r="10"/><circle cx="1597" cy="888" r="10"/><circle cx="1597" cy="904" r="10"/><circle cx="1587" cy="925" r="10"/><circle cx="1607" cy="925" r="10"/><circle cx="1597" cy="1040" r="10"/></g>
<path class="eb" d="M1462,898V916M1455,898H1469M1455,916H1469M1448,908H1476 M1527,958V979M1520,958H1534M1520,979H1534M1513,968H1541 M1597,873V924M1590,873H1604M1590,924H1604M1583,899H1611"/>

<!-- ================= Panel j ================= -->
<text class="lbl" x="1668" y="672">j</text>
<text class="big" transform="translate(1705,930) rotate(-90)" text-anchor="middle" textLength="453">Discrimination ratio (interaction times)</text>
<path class="ax" d="M1792,715 V1145 H1998 M1777,715 H1792 M1777,801 H1792 M1777,887 H1792 M1777,973 H1792 M1777,1059 H1792"/>
<path d="M1796,887 H2001" stroke="#000" stroke-width="3" stroke-dasharray="3 6"/>
<text x="1763" y="724" text-anchor="end">0.4</text>
<text x="1763" y="810" text-anchor="end">0.2</text>
<text x="1763" y="896" text-anchor="end">0.0</text>
<text x="1763" y="982" text-anchor="end">-0.2</text>
<text x="1763" y="1068" text-anchor="end">-0.4</text>
<text x="1763" y="1151" text-anchor="end">-0.6</text>
<text class="big" x="1763" y="1175" text-anchor="end">AT</text>
<text x="1833" y="1174" text-anchor="middle">-</text><text x="1899" y="1174" text-anchor="middle">-</text><text x="1968" y="1174" text-anchor="middle">+</text>
<path d="M1886,1184 H1982" stroke="#000" stroke-width="2.2"/>
<text x="1792" y="1212">MMc<tspan dy="-10" font-size="17">pos</tspan></text>
<text x="1893" y="1212">MMc<tspan dy="-10" font-size="17">low</tspan></text>
<text class="ast" x="1865" y="727" text-anchor="middle">*</text><text class="ast" x="1933" y="727" text-anchor="middle">*</text>
<g class="k"><circle cx="1822" cy="852" r="10"/><circle cx="1843" cy="852" r="10"/><circle cx="1833" cy="869" r="10"/><circle cx="1833" cy="890" r="10"/><circle cx="1833" cy="912" r="10"/><circle cx="1833" cy="945" r="10"/><circle cx="1833" cy="1014" r="10"/></g>
<g class="t"><circle cx="1899" cy="927" r="10"/><circle cx="1899" cy="989" r="10"/><circle cx="1888" cy="1008" r="10"/><circle cx="1910" cy="1012" r="10"/><circle cx="1899" cy="1057" r="10"/><circle cx="1910" cy="1086" r="10"/><circle cx="1888" cy="1093" r="10"/></g>
<g class="g"><circle cx="1968" cy="799" r="10"/><circle cx="1968" cy="813" r="10"/><circle cx="1968" cy="884" r="10"/><circle cx="1968" cy="931" r="10"/><circle cx="1947" cy="969" r="10"/><circle cx="1968" cy="979" r="10"/><circle cx="1990" cy="975" r="10"/><circle cx="1968" cy="1005" r="10"/></g>
<path class="eb" d="M1833,883V927M1826,883H1840M1826,927H1840M1819,905H1847 M1899,1003V1047M1892,1003H1906M1892,1047H1906M1885,1025H1913 M1968,892V947M1961,892H1975M1961,947H1975M1954,920H1982"/>
</svg>
</body></html>
